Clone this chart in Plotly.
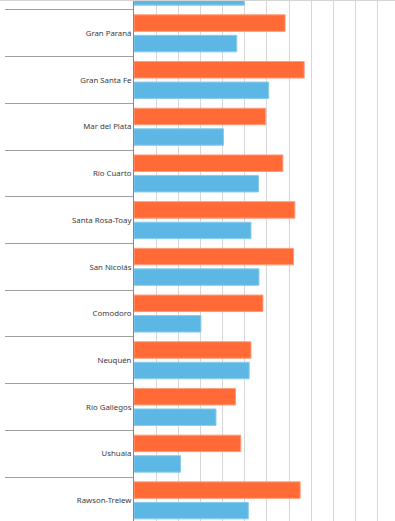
import plotly.graph_objects as go

categories = ["Bahía Blanca", "Gran Paraná", "Gran Santa Fe", "Mar del Plata", "Río Cuarto",
              "Santa Rosa-Toay", "San Nicolás", "Comodoro", "Neuquén", "Río Gallegos",
              "Ushuaia", "Rawson-Trelew"]
series_orange = [33.0, 34.1, 38.4, 29.7, 33.6, 36.3, 36.0, 29.1, 26.4, 22.9, 24.1, 37.5]
series_blue = [24.9, 23.2, 30.4, 20.2, 28.1, 26.4, 28.2, 15.1, 26.0, 18.5, 10.5, 25.8]

ORANGE = "#FF6A36"
BLUE = "#5DB7E4"

fig = go.Figure()
fig.add_trace(go.Bar(y=categories, x=series_orange, orientation="h",
                     marker=dict(color=ORANGE, line=dict(color="#FF9D7A", width=1)),
                     name="A", hoverinfo="skip"))
fig.add_trace(go.Bar(y=categories, x=series_blue, orientation="h",
                     marker=dict(color=BLUE, line=dict(color="#8ACCEC", width=1)),
                     name="B", hoverinfo="skip"))

fig.update_layout(
    width=395, height=521,
    margin=dict(l=134, r=0, t=0, b=0, autoexpand=False),
    paper_bgcolor="white", plot_bgcolor="white",
    showlegend=False,
    barmode="group", bargap=0.122, bargroupgap=0.195,
    font=dict(family="Noto Sans", size=8, color="#3a3a3a"),
    xaxis=dict(range=[0, 58.9], dtick=5, showticklabels=False, showgrid=True,
               gridcolor="#d6d6d6", gridwidth=1, zeroline=False, showline=False,
               automargin=False),
    yaxis=dict(range=[11.442, 0.286], showline=True, linecolor="#888888", linewidth=1,
               ticks="outside", tickson="boundaries", ticklen=128, tickcolor="#a0a0a0",
               tickwidth=1, showgrid=False, zeroline=False, automargin=False,
               tickfont=dict(family="Noto Sans", size=7.8, color="#3a3a3a")),
    shapes=[
        dict(type="line", xref="paper", yref="paper", x0=-134 / 261, x1=1, y0=1, y1=1,
             line=dict(color="#d4d4d4", width=2), layer="above"),
    ],
)

fig.write_html("out.html",
               config={"displayModeBar": False, "staticPlot": True},
               post_script="document.body.style.margin='0';document.body.style.overflow='hidden';")
